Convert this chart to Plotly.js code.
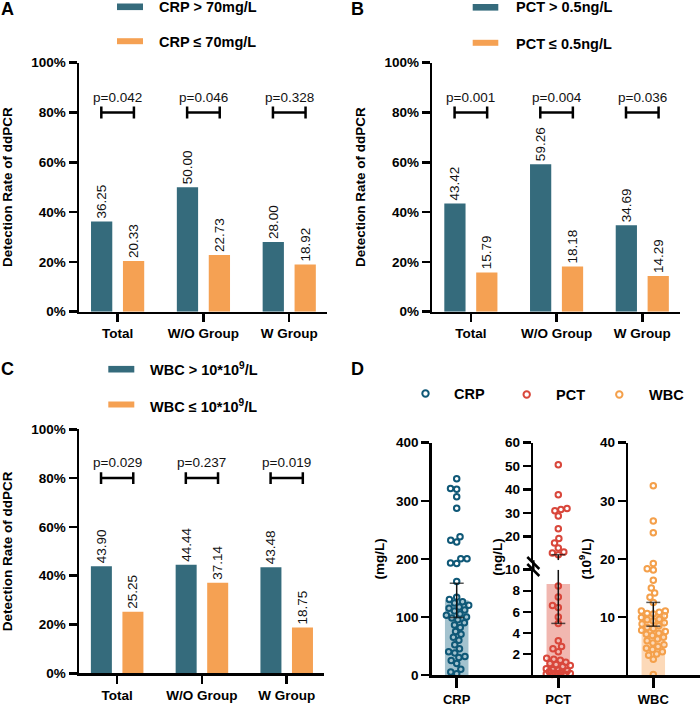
<!DOCTYPE html>
<html><head><meta charset="utf-8">
<script src="https://cdn.plot.ly/plotly-3.0.1.min.js"></script>
<style>html,body{margin:0;padding:0;background:#fff}#chart{width:700px;height:709px}</style>
</head><body><div id="chart"></div>
<script>
// ---------- data ----------
const categories = ['Total', 'W/O Group', 'W Group'];
const percentTicks = [0, 20, 40, 60, 80, 100];
const percentTickText = ['0%', '20%', '40%', '60%', '80%', '100%'];

const crpHigh = [36.25, 50.00, 28.00];
const crpLow  = [20.33, 22.73, 18.92];
const crpP    = ['p=0.042', 'p=0.046', 'p=0.328'];

const pctHigh = [43.42, 59.26, 34.69];
const pctLow  = [15.79, 18.18, 14.29];
const pctP    = ['p=0.001', 'p=0.004', 'p=0.036'];

const wbcHigh = [43.90, 44.44, 43.48];
const wbcLow  = [25.25, 37.14, 18.75];
const wbcP    = ['p=0.029', 'p=0.237', 'p=0.019'];

const pctLevel = 80;           // level of the significance brackets (%)

// panel D: individual values
const crpValues = [338, 321, 320, 307, 287, 238, 232, 229, 200, 200, 193, 192, 161, 134, 130, 126, 124, 120,
  117, 115, 112, 110, 105, 103, 100, 98, 95, 90, 86, 82, 75, 70, 65, 60, 52, 45, 40, 38, 32, 30, 25, 20, 10, 5, 2];
const pctValues = [50.6, 37.8, 32.0, 31.6, 31.0, 28.8, 23.4, 19.2, 17.3, 15.2, 13.5, 13.1, 12.3,
  8.45, 7.4, 6.6, 6.4, 5.5, 4.9, 3.25, 2.7, 2.5, 2.2, 1.6, 1.5, 1.4, 1.2, 1.1, 1.0, 0.9, 0.8, 0.6, 0.5,
  0.45, 0.4, 0.3, 0.25, 0.2, 0.15, 0.1, 0.1, 0.05, 0.05];
const wbcValues = [32.6, 26.5, 24.5, 19.2, 18.3, 18.1, 16.3, 15.0, 14.1, 13.4, 12.5, 11.0, 11.0, 10.8, 10.6,
  10.5, 10.2, 9.9, 9.6, 9.5, 9.3, 9.0, 8.8, 8.5, 8.2, 8.0, 7.7, 7.5, 7.2, 7.0, 6.8, 6.5, 6.2, 5.9, 5.5, 5.2,
  4.9, 4.6, 4.4, 4.0, 3.6, 3.4, 2.7, 0.1];
// bar height (mean) and error bar limits
const crpSummary = {mean: 128.5, lo: 99, hi: 158};
const pctSummary = {mean: 8.65, lo: 4.9, hi: 12.35};
const wbcSummary = {mean: 10.45, lo: 8.4, hi: 12.5};
const pctBreak = 10;

// ---------- style ----------
const W = 700, H = 709;
const px = x => x / W, py = y => 1 - y / H;
const FONT = '"Liberation Sans", Arial, Helvetica, sans-serif';
const DARK = '#356b7c', ORANGE = '#f5a153';
const cCRP = '#0f5877', cPCT = '#d9473b', cWBC = '#f4a04b';
const fCRP = '#a3c2ce', fPCT = '#f1b7b0', fWBC = '#fcd9b8';
const boldF = (s) => ({family: FONT, size: s, color: '#000', weight: 'bold'});
const regF = (s) => ({family: FONT, size: s, color: '#111'});

const traces = [], shapes = [], annotations = [];
const layout = {
  width: W, height: H, margin: {l: 0, r: 0, t: 0, b: 0},
  paper_bgcolor: '#fff', plot_bgcolor: 'rgba(0,0,0,0)',
  showlegend: false, barmode: 'group', bargap: 0.256, bargroupgap: 0.334,
  font: {family: FONT}
};

function axisBase() {
  return {showline: true, linewidth: 2.5, linecolor: '#000', ticks: 'outside', tickwidth: 2.5,
          tickcolor: '#000', showgrid: false, zeroline: false, fixedrange: true, tickfont: boldF(13.5)};
}

// ---------- panels A-C ----------
const panels = [
  {label: 'A', hi: crpHigh, lo: crpLow, p: crpP, legHi: 'CRP > 70mg/L', legLo: 'CRP ≤ 70mg/L',
   x0: 79, x1: 327, top: 62.7, bot: 311.7, lab: [7.5, 9.5],
   leg: {a: 117, b: 143, t: 157, y1: 6.8, y2: 41.2}},
  {label: 'B', hi: pctHigh, lo: pctLow, p: pctP, legHi: 'PCT > 0.5ng/L', legLo: 'PCT ≤ 0.5ng/L',
   x0: 432.3, x1: 680, top: 62.7, bot: 311.7, lab: [357.5, 9.5],
   leg: {a: 472.7, b: 498.3, t: 514, y1: 7.3, y2: 42.8}},
  {label: 'C', hi: wbcHigh, lo: wbcLow, p: wbcP, legHi: 'WBC > 10*10<sup>9</sup>/L', legLo: 'WBC ≤ 10*10<sup>9</sup>/L',
   x0: 79, x1: 324, top: 429.3, bot: 673.3, lab: [7.5, 368.5],
   leg: {a: 108.3, b: 134.3, t: 148.3, y1: 369.2, y2: 404.5}}
];

panels.forEach((P, i) => {
  const n = i + 1, xa = 'x' + (n === 1 ? '' : n), ya = 'y' + (n === 1 ? '' : n);
  const xk = 'xaxis' + (n === 1 ? '' : n), yk = 'yaxis' + (n === 1 ? '' : n);
  layout[xk] = Object.assign(axisBase(), {
    domain: [px(P.x0), px(P.x1)], range: [-0.45, 2.44], type: 'category', categoryarray: categories,
    anchor: ya, ticklen: 8, tickfont: boldF(13.5)
  });
  layout[yk] = Object.assign(axisBase(), {
    domain: [py(P.bot), py(P.top)], range: [0, 100], tickmode: 'array', tickvals: percentTicks,
    ticktext: percentTickText, anchor: xa, ticklen: 8,
    title: {text: 'Detection Rate of ddPCR', font: boldF(13.5), standoff: 16}
  });
  [[P.hi, DARK], [P.lo, ORANGE]].forEach(([vals, col]) => {
    traces.push({type: 'bar', x: categories, y: vals, xaxis: xa, yaxis: ya, marker: {color: col},
      texttemplate: '%{y:.2f}', textposition: 'outside', textangle: -90, cliponaxis: false,
      constraintext: 'none', textfont: regF(13.5), hoverinfo: 'skip'});
  });
  categories.forEach((c, j) => {
    const L = j - 0.19, R = j + 0.19;
    const ln = {color: '#000', width: 2.5};
    shapes.push({type: 'line', xref: xa, yref: ya, x0: L, x1: R, y0: pctLevel, y1: pctLevel, line: ln});
    shapes.push({type: 'line', xref: xa, yref: ya, x0: L, x1: L, y0: pctLevel - 2.4, y1: pctLevel + 2.4, line: ln});
    shapes.push({type: 'line', xref: xa, yref: ya, x0: R, x1: R, y0: pctLevel - 2.4, y1: pctLevel + 2.4, line: ln});
    annotations.push({xref: xa, yref: ya, x: j, y: pctLevel, yshift: 15.5, text: P.p[j], showarrow: false,
      font: regF(13.5), xanchor: 'center', yanchor: 'middle'});
  });
  // legend
  shapes.push({type: 'rect', xref: 'paper', yref: 'paper', x0: px(P.leg.a), x1: px(P.leg.b),
    y0: py(P.leg.y1 + 3.3), y1: py(P.leg.y1 - 3.3), fillcolor: DARK, line: {width: 0}});
  shapes.push({type: 'rect', xref: 'paper', yref: 'paper', x0: px(P.leg.a), x1: px(P.leg.b),
    y0: py(P.leg.y2 + 3.0), y1: py(P.leg.y2 - 3.0), fillcolor: ORANGE, line: {width: 0}});
  annotations.push({xref: 'paper', yref: 'paper', x: px(P.leg.t), y: py(P.leg.y1), xanchor: 'left', yanchor: 'middle',
    text: P.legHi, showarrow: false, font: boldF(14.5)});
  annotations.push({xref: 'paper', yref: 'paper', x: px(P.leg.t), y: py(P.leg.y2 + 1), xanchor: 'left', yanchor: 'middle',
    text: P.legLo, showarrow: false, font: boldF(14.5)});
  annotations.push({xref: 'paper', yref: 'paper', x: px(P.lab[0]), y: py(P.lab[1]), xanchor: 'center', yanchor: 'middle',
    text: P.label, showarrow: false, font: boldF(18)});
});

// ---------- panel D ----------
const dTop = 442.7, dBot = 675, pxPerX = 50;
const dCols = [
  {name: 'CRP', x0: 431.7, x1: 533.3},
  {name: 'PCT', x0: 533.3, x1: 628.3},
  {name: 'WBC', x0: 628.3, x1: 700}
];
const pctLowerTop = 569.7, pctUpperBot = 560.2;

dCols.forEach((c, i) => {
  const n = 4 + i;
  layout['xaxis' + n] = Object.assign(axisBase(), {
    domain: [px(c.x0), px(c.x1)], range: [-0.5, -0.5 + (c.x1 - c.x0) / pxPerX],
    tickmode: 'array', tickvals: [0], ticktext: [c.name], ticklen: 10, ticklabelstandoff: 1,
    tickfont: boldF(13), anchor: 'y' + n
  });
});
layout.yaxis4 = Object.assign(axisBase(), {domain: [py(dBot), py(dTop)], range: [0, 400], tickmode: 'array',
  tickvals: [0, 100, 200, 300, 400], anchor: 'x4', ticklen: 8,
  title: {text: '(mg/L)', font: boldF(13.5), standoff: 8}});
layout.yaxis5 = Object.assign(axisBase(), {domain: [py(dBot), py(pctLowerTop)], range: [0, pctBreak],
  tickmode: 'array', tickvals: [2, 4, 6, 8, 10], anchor: 'x5', ticklen: 8});
layout.yaxis8 = Object.assign(axisBase(), {domain: [py(pctUpperBot), py(dTop)], range: [pctBreak, 60],
  tickmode: 'array', tickvals: [20, 30, 40, 50, 60], anchor: 'x5', ticklen: 8});
layout.yaxis6 = Object.assign(axisBase(), {domain: [py(dBot), py(dTop)], range: [0, 40], tickmode: 'array',
  tickvals: [10, 20, 30, 40], anchor: 'x6', ticklen: 8,
  title: {text: '(10<sup>9</sup>/L)', font: boldF(13.5), standoff: 6}});

function pxPerY(axis) {
  const d = layout[axis].domain, r = layout[axis].range;
  return (d[1] - d[0]) * H / (r[1] - r[0]);
}
// beeswarm: horizontal offsets (data units) so markers do not overlap, kept within +-maxHalf px
function swarm(vals, ky, diam, maxHalf) {
  const idx = vals.map((v, i) => i).sort((a, b) => vals[a] - vals[b]);
  const placed = [], out = new Array(vals.length);
  idx.forEach(i => {
    const y = vals[i] * ky;
    const near = placed.filter(p => Math.abs(p.y - y) < diam);
    const cands = [0];
    near.forEach(p => { const dx = Math.sqrt(diam * diam - (p.y - y) ** 2); cands.push(p.x + dx, p.x - dx); });
    const ok = cands.filter(cx => Math.abs(cx) <= maxHalf)
      .sort((a, b) => Math.abs(a) - Math.abs(b) || a - b);
    let x = ok.find(cx => near.every(p => (p.x - cx) ** 2 + (p.y - y) ** 2 >= diam * diam - 0.01));
    if (x === undefined) {
      let best = -1;
      for (let cx = -maxHalf; cx <= maxHalf; cx += 0.5) {
        const m = Math.min(...placed.map(p => (p.x - cx) ** 2 + (p.y - y) ** 2));
        if (m > best + 1e-6) { best = m; x = cx; }
      }
    }
    placed.push({x, y}); out[i] = x / pxPerX;
  });
  return out;
}
const DIAM = 6.2, HALF = 12;
function pointsTrace(vals, xa, ya, col) {
  const xs = swarm(vals, pxPerY(ya.replace('y', 'yaxis')), DIAM, HALF);
  return {type: 'scatter', mode: 'markers', x: xs, y: vals, xaxis: xa, yaxis: ya, cliponaxis: false,
    marker: {symbol: 'circle-open', size: 5.5, color: col, line: {width: 2}}, hoverinfo: 'skip'};
}
function barTrace(mean, xa, ya, col) {
  return {type: 'bar', x: [0], y: [mean], width: 0.47, xaxis: xa, yaxis: ya, marker: {color: col}, hoverinfo: 'skip'};
}
function errTrace(ys, sizes, xa, ya) {
  return {type: 'scatter', mode: 'lines+markers', x: ys.map(() => 0), y: ys, xaxis: xa, yaxis: ya, cliponaxis: false,
    line: {color: '#111', width: 1.5},
    marker: {symbol: 'line-ew-open', size: sizes, color: '#111', line: {width: 1.5}}, hoverinfo: 'skip'};
}

// CRP
traces.push(barTrace(crpSummary.mean, 'x4', 'y4', fCRP));
traces.push(pointsTrace(crpValues, 'x4', 'y4', cCRP));
traces.push(errTrace([crpSummary.lo, crpSummary.hi], [10, 10], 'x4', 'y4'));
// PCT (broken axis)
const pctLowerVals = pctValues.filter(v => v <= pctBreak);
const pctUpperVals = pctValues.filter(v => v > pctBreak);
traces.push(barTrace(pctSummary.mean, 'x5', 'y5', fPCT));
traces.push(pointsTrace(pctLowerVals, 'x5', 'y5', cPCT));
traces.push(pointsTrace(pctUpperVals, 'x5', 'y8', cPCT));
traces.push(errTrace([pctSummary.lo, pctBreak], [10, 0], 'x5', 'y5'));
traces.push(errTrace([pctBreak, pctSummary.hi], [0, 10], 'x5', 'y8'));
// WBC
traces.push(barTrace(wbcSummary.mean, 'x6', 'y6', fWBC));
traces.push(pointsTrace(wbcValues, 'x6', 'y6', cWBC));
traces.push(errTrace([wbcSummary.lo, wbcSummary.hi], [10, 10], 'x6', 'y6'));

// axis break: connect axis line and draw the break marks
const axX = 533.3;
shapes.push({type: 'line', xref: 'paper', yref: 'paper', x0: px(axX), x1: px(axX), y0: py(pctLowerTop), y1: py(pctUpperBot),
  line: {color: '#000', width: 2.5}});
[[557, 569], [564, 576]].forEach(([a, b]) => {
  shapes.push({type: 'line', xref: 'paper', yref: 'paper', x0: px(axX - 6), x1: px(axX + 6), y0: py(a), y1: py(b),
    line: {color: '#000', width: 2.5}});
});
// PCT axis title (spans both parts of the broken axis)
annotations.push({xref: 'paper', yref: 'paper', x: px(496.7), y: py(557), text: '(ng/L)', textangle: -90,
  showarrow: false, font: boldF(13.5), xanchor: 'center', yanchor: 'middle'});

// panel D legend
[['CRP', cCRP, 425.5, 393.5, 452.3], ['PCT', cPCT, 526.7, 394.5, 554.3], ['WBC', cWBC, 619.3, 394.5, 646.7]]
  .forEach(([t, col, mx, my, tx]) => {
    shapes.push({type: 'circle', xref: 'paper', yref: 'paper', xsizemode: 'pixel', ysizemode: 'pixel',
      xanchor: px(mx), yanchor: py(my), x0: -3.2, x1: 3.2, y0: -3.2, y1: 3.2, line: {color: col, width: 2}});
    annotations.push({xref: 'paper', yref: 'paper', x: px(tx), y: py(my), xanchor: 'left', yanchor: 'middle',
      text: t, showarrow: false, font: boldF(14.5)});
  });
annotations.push({xref: 'paper', yref: 'paper', x: px(357.5), y: py(368.5), xanchor: 'center', yanchor: 'middle',
  text: 'D', showarrow: false, font: boldF(18)});

layout.shapes = shapes;
layout.annotations = annotations;
Plotly.newPlot('chart', traces, layout, {staticPlot: true, displayModeBar: false});
</script>
</body></html>
